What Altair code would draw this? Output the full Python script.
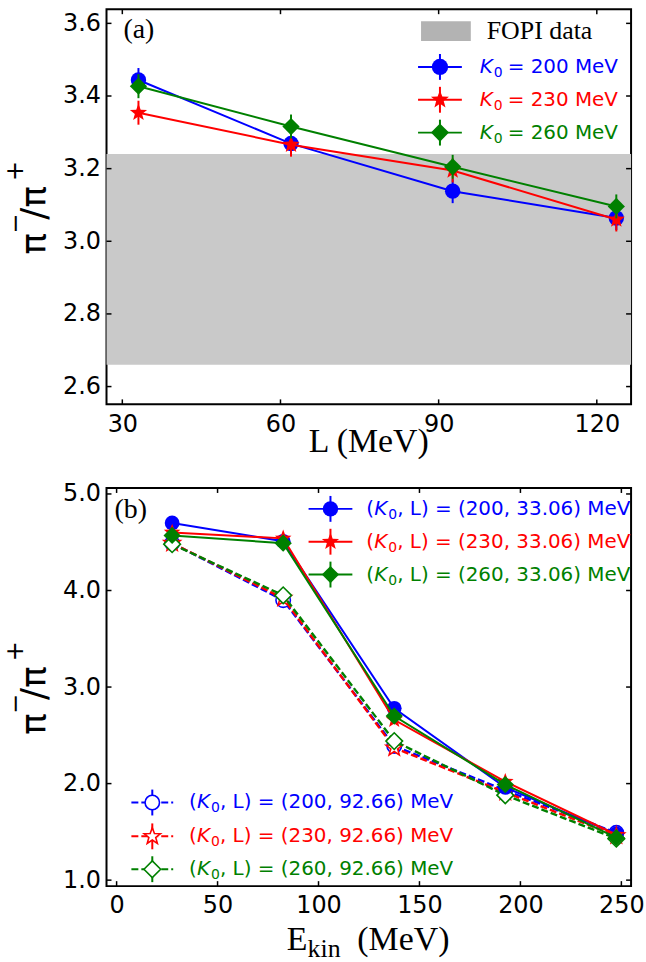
import math
import altair as alt
import pandas as pd

# ---------------- data ----------------
# panel (a): pi-/pi+ versus symmetry-energy slope L
L_values = [33.06, 62.0, 92.66, 123.7]
ratio_K200 = [3.444, 3.269, 3.138, 3.064]
ratio_K230 = [3.354, 3.266, 3.195, 3.060]
ratio_K260 = [3.427, 3.316, 3.205, 3.096]
err_K200 = [0.033, 0.033, 0.033, 0.033]
err_K230 = [0.033, 0.033, 0.033, 0.033]
err_K260 = [0.033, 0.033, 0.033, 0.033]
fopi_band = [2.66, 3.24]

# panel (b): pi-/pi+ versus kinetic energy
E_kin = [27.5, 82.5, 137.5, 192.5, 247.5]
b_200_33 = [4.70, 4.51, 2.78, 1.96, 1.48]
b_230_33 = [4.60, 4.54, 2.66, 2.02, 1.47]
b_260_33 = [4.57, 4.49, 2.70, 1.99, 1.44]
b_200_92 = [4.49, 3.90, 2.39, 1.93, 1.49]
b_230_92 = [4.49, 3.92, 2.37, 1.91, 1.46]
b_260_92 = [4.48, 3.95, 2.44, 1.88, 1.43]
err_b = [0.04, 0.04, 0.04, 0.04, 0.04]

a_xticks = [30, 60, 90, 120]
a_yticks = [2.6, 2.8, 3.0, 3.2, 3.4, 3.6]
b_xticks = [0, 50, 100, 150, 200, 250]
b_yticks = [1.0, 2.0, 3.0, 4.0, 5.0]

# ---------------- style ----------------
BLUE, RED, GREEN = "#0000ff", "#ff0000", "#008000"
SANS = "DejaVu Sans"
SERIF = "Liberation Serif"
W = 527
HA = 397
HB = 400
ONE = alt.Data(values=[{"o": 1}])

pts = []
for k in range(10):
    ang = math.radians(90 + 36 * k)
    r = 1.0 if k % 2 == 0 else 0.42
    pts.append((r * math.cos(ang), -r * math.sin(ang)))
STAR = "M" + " L".join(f"{x:.3f},{y:.3f}" for x, y in pts) + " Z"

SZ_C, SZ_S, SZ_D = 240, 330, 300


def make_xy(xdom, ydom, xvals, yvals, xfmt, yfmt):
    xs = alt.Scale(domain=xdom, nice=False, zero=False)
    ys = alt.Scale(domain=ydom, nice=False, zero=False)
    ax = alt.Axis(values=xvals, format=xfmt, ticks=False, domain=False, grid=False,
                  labelFont=SANS, labelFontSize=24, labelColor="black", labelPadding=8,
                  labelFlush=False, labelOverlap=False, labelBound=False, title=None)
    ay = alt.Axis(values=yvals, format=yfmt, ticks=False, domain=False, grid=False,
                  labelFont=SANS, labelFontSize=24, labelColor="black", labelPadding=6,
                  labelOverlap=False, labelBound=False, title=None)

    def X(f):
        return alt.X(f"{f}:Q", scale=xs, axis=ax)

    def Y(f):
        return alt.Y(f"{f}:Q", scale=ys, axis=ay)
    return X, Y


def txt(x, y, s, size=20, color="black", font=SANS, italic=False, align="left",
        baseline="middle", angle=None):
    kw = dict(text=s, fontSize=size, color=color, font=font, align=align, baseline=baseline)
    if italic:
        kw["fontStyle"] = "italic"
    if angle is not None:
        kw["angle"] = angle
    return alt.Chart(ONE).mark_text(**kw).encode(x=alt.value(x), y=alt.value(y))


def hrule(x1, x2, y, color, dash=None, width=2):
    kw = dict(color=color, strokeWidth=width)
    if dash:
        kw["strokeDash"] = dash
    return alt.Chart(ONE).mark_rule(**kw).encode(x=alt.value(x1), x2=alt.value(x2), y=alt.value(y))


def vrule(x, y1, y2, color, width=2):
    return alt.Chart(ONE).mark_rule(color=color, strokeWidth=width).encode(
        x=alt.value(x), y=alt.value(y1), y2=alt.value(y2))


def sym(x, y, shape, size, color, open_=False):
    if open_:
        m = alt.Chart(ONE).mark_point(shape=shape, size=size, fill="white", stroke=color,
                                      strokeWidth=1.6, opacity=1, filled=True)
    else:
        m = alt.Chart(ONE).mark_point(shape=shape, size=size, color=color, filled=True, opacity=1)
    return m.encode(x=alt.value(x), y=alt.value(y))


def series(X, Y, xv, yv, ev, color, shape, size, dashed=False, open_=False):
    df = pd.DataFrame({"x": xv, "y": yv,
                       "lo": [a - b for a, b in zip(yv, ev)],
                       "hi": [a + b for a, b in zip(yv, ev)]})
    base = alt.Chart(df)
    lkw = dict(color=color, strokeWidth=2)
    if dashed:
        lkw["strokeDash"] = [7, 3]
        lkw["strokeWidth"] = 2.4
    line = base.mark_line(**lkw).encode(x=X("x"), y=Y("y"))
    err = base.mark_rule(color=color, strokeWidth=2).encode(x=X("x"), y=Y("lo"), y2="hi")
    if open_:
        mk = base.mark_point(shape=shape, size=size, fill="white", stroke=color,
                             strokeWidth=1.6, opacity=1, filled=True)
    else:
        mk = base.mark_point(shape=shape, size=size, color=color, filled=True, opacity=1)
    mk = mk.encode(x=X("x"), y=Y("y"))
    return [line, err, mk]


def frame_ticks(X, Y, xt, yt, H, L=5):
    dx = pd.DataFrame({"t": xt})
    dy = pd.DataFrame({"t": yt})
    k = dict(color="black", strokeWidth=1.5)
    return [
        alt.Chart(dx).mark_rule(**k).encode(x=X("t"), y=alt.value(H), y2=alt.value(H - L)),
        alt.Chart(dx).mark_rule(**k).encode(x=X("t"), y=alt.value(0), y2=alt.value(L)),
        alt.Chart(dy).mark_rule(**k).encode(y=Y("t"), x=alt.value(0), x2=alt.value(L)),
        alt.Chart(dy).mark_rule(**k).encode(y=Y("t"), x=alt.value(W), x2=alt.value(W - L)),
    ]


def ytitle(H):
    c = H / 2
    return [
        txt(-72, c + 37, "π", size=36, align="center", angle=270),
        txt(-91, c + 17, "−", size=24, align="center", angle=270),
        txt(-72, c - 4, "/π", size=36, align="center", angle=270),
        txt(-91, c - 36, "+", size=24, align="center", angle=270),
    ]


# ---------------- panel (a) ----------------
Xa, Ya = make_xy([27.0, 126.5], [2.551, 3.639], a_xticks, a_yticks, "d", ".1f")
band = alt.Chart(pd.DataFrame({"lo": [fopi_band[0]], "hi": [fopi_band[1]]})).mark_rect(
    color="#c9c9c9").encode(x=alt.value(0), x2=alt.value(W), y=Ya("lo"), y2="hi")

layers_a = [band]
layers_a += series(Xa, Ya, L_values, ratio_K200, err_K200, BLUE, "circle", SZ_C)
layers_a += series(Xa, Ya, L_values, ratio_K230, err_K230, RED, STAR, SZ_S)
layers_a += series(Xa, Ya, L_values, ratio_K260, err_K260, GREEN, "diamond", SZ_D)
layers_a += frame_ticks(Xa, Ya, a_xticks, a_yticks, HA)

# legend (a)
layers_a.append(alt.Chart(ONE).mark_rect(color="#b3b3b3").encode(
    x=alt.value(316), x2=alt.value(366), y=alt.value(12), y2=alt.value(32)))
layers_a.append(txt(382, 22, "FOPI data", size=26, font=SERIF))
for yy, col, shp, sz, num in [(58, BLUE, "circle", SZ_C + 30, "200"), (91, RED, STAR, SZ_S + 30, "230"),
                              (124, GREEN, "diamond", SZ_D + 30, "260")]:
    layers_a.append(hrule(313, 357, yy, col))
    layers_a.append(vrule(335, yy - 13, yy + 13, col))
    layers_a.append(sym(335, yy, shp, sz, col))
    layers_a.append(txt(375, yy, "K", color=col, italic=True))
    layers_a.append(txt(389, yy + 6, "0", size=14, color=col))
    layers_a.append(txt(403, yy, f"= {num} MeV", color=col))
layers_a.append(txt(17, 21, "(a)", size=28, font=SERIF))
layers_a += ytitle(HA)
layers_a.append(txt(W / 2, HA + 48, "L (MeV)", size=34, font=SERIF, align="center",
                    baseline="alphabetic"))
panel_a = alt.layer(*layers_a).properties(width=W, height=HA)

# ---------------- panel (b) ----------------
Xb, Yb = make_xy([-5.0, 254.8], [0.938, 5.062], b_xticks, b_yticks, "d", ".1f")
layers_b = []
layers_b += series(Xb, Yb, E_kin, b_200_92, err_b, BLUE, "circle", SZ_C - 30, dashed=True, open_=True)
layers_b += series(Xb, Yb, E_kin, b_230_92, err_b, RED, STAR, SZ_S - 30, dashed=True, open_=True)
layers_b += series(Xb, Yb, E_kin, b_260_92, err_b, GREEN, "diamond", SZ_D - 20, dashed=True, open_=True)
layers_b += series(Xb, Yb, E_kin, b_200_33, err_b, BLUE, "circle", SZ_C - 20)
layers_b += series(Xb, Yb, E_kin, b_230_33, err_b, RED, STAR, SZ_S - 20)
layers_b += series(Xb, Yb, E_kin, b_260_33, err_b, GREEN, "diamond", SZ_D)
layers_b += frame_ticks(Xb, Yb, b_xticks, b_yticks, HB)


def leg_label(x0, yy, col, num, lval):
    return [
        txt(x0, yy, "(", color=col),
        txt(x0 + 8, yy, "K", color=col, italic=True),
        txt(x0 + 22, yy + 6, "0", size=14, color=col),
        txt(x0 + 31, yy, f", L) = ({num}, {lval}) MeV", color=col),
    ]


for yy, col, shp, sz, num in [(21, BLUE, "circle", SZ_C, "200"), (54, RED, STAR, SZ_S, "230"),
                              (87, GREEN, "diamond", SZ_D, "260")]:
    layers_b.append(hrule(203, 247, yy, col))
    layers_b.append(vrule(225, yy - 13, yy + 13, col))
    layers_b.append(sym(225, yy, shp, sz, col))
    layers_b += leg_label(261, yy, col, num, "33.06")
for yy, col, shp, sz, num in [(316, BLUE, "circle", SZ_C - 30, "200"), (350, RED, STAR, SZ_S - 30, "230"),
                              (383, GREEN, "diamond", SZ_D - 20, "260")]:
    layers_b.append(hrule(25, 67, yy, col, dash=[7, 3]))
    layers_b.append(vrule(46, yy - 13, yy + 13, col))
    layers_b.append(sym(46, yy, shp, sz, col, open_=True))
    layers_b += leg_label(83, yy, col, num, "92.66")
layers_b.append(txt(8, 22, "(b)", size=28, font=SERIF))
layers_b += ytitle(HB)
layers_b.append(txt(181, HB + 64, "E", size=34, font=SERIF, baseline="alphabetic"))
layers_b.append(txt(202, HB + 71, "kin", size=26, font=SERIF, baseline="alphabetic"))
layers_b.append(txt(252, HB + 64, "(MeV)", size=34, font=SERIF, baseline="alphabetic"))
panel_b = alt.layer(*layers_b).properties(width=W, height=HB)

chart = alt.vconcat(panel_a, panel_b, spacing=21).properties(
    padding={"left": 3, "top": 5, "right": 0, "bottom": 0},
    background="white",
).configure_view(stroke="black", strokeWidth=2)

chart.save("out.html", embed_options={"renderer": "svg", "actions": False})
